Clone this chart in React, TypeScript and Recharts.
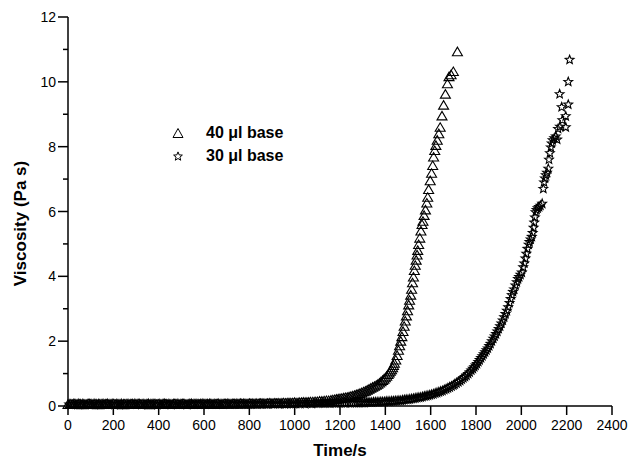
import { ScatterChart, Scatter, XAxis, YAxis, Legend } from 'recharts'

const FONT = '"Liberation Sans", Arial, Helvetica, sans-serif'

const xTicks = [0, 200, 400, 600, 800, 1000, 1200, 1400, 1600, 1800, 2000, 2200, 2400]
const yTicks = [0, 1, 2, 3, 4, 5, 6, 7, 8, 9, 10, 11, 12]

// 40 µl base (triangles)
const triTime = [
  0, 10, 20, 30, 40, 50, 60, 70, 80, 90,
  100, 110, 120, 130, 140, 150, 160, 170, 180, 190,
  200, 210, 220, 230, 240, 250, 260, 270, 280, 290,
  300, 310, 320, 330, 340, 350, 360, 370, 380, 390,
  400, 410, 420, 430, 440, 450, 460, 470, 480, 490,
  500, 510, 520, 530, 540, 550, 560, 570, 580, 590,
  600, 610, 620, 630, 640, 650, 660, 670, 680, 690,
  700, 710, 720, 730, 740, 750, 760, 770, 780, 790,
  800, 810, 820, 830, 840, 850, 860, 870, 880, 890,
  900, 910, 920, 930, 940, 950, 960, 970, 980, 990,
  1000, 1010, 1020, 1030, 1040, 1050, 1060, 1070, 1080, 1090,
  1100, 1110, 1120, 1130, 1140, 1150,
  1160, 1168, 1176, 1184, 1192, 1200, 1208, 1216, 1224, 1232,
  1240, 1248, 1256, 1264, 1272, 1280, 1288, 1296, 1304, 1312,
  1320, 1328, 1336, 1344, 1352, 1360, 1367, 1374, 1381, 1388,
  1394, 1400, 1406, 1412, 1417, 1422, 1427, 1432, 1436, 1440,
  1446, 1452, 1458, 1463, 1468, 1473, 1478, 1483, 1488, 1493,
  1498, 1503, 1507, 1512, 1516, 1520, 1524, 1528, 1532, 1536,
  1540, 1543, 1547, 1552, 1557, 1562, 1566, 1571, 1577, 1583,
  1587, 1591, 1598, 1604, 1609, 1613, 1618, 1623, 1629, 1636,
  1642, 1650, 1657, 1665, 1674, 1681, 1690, 1700, 1718,
]
const triVisc = [
  0.05, 0.06, 0.05, 0.07, 0.05, 0.06, 0.04, 0.06, 0.05, 0.07,
  0.06, 0.05, 0.06, 0.04, 0.06, 0.07, 0.05, 0.06, 0.05, 0.06,
  0.07, 0.05, 0.06, 0.05, 0.04, 0.06, 0.07, 0.05, 0.06, 0.05,
  0.06, 0.07, 0.05, 0.06, 0.05, 0.06, 0.04, 0.06, 0.07, 0.05,
  0.06, 0.05, 0.07, 0.06, 0.05, 0.06, 0.05, 0.07, 0.06, 0.05,
  0.06, 0.07, 0.05, 0.06, 0.06, 0.05, 0.07, 0.06, 0.05, 0.06,
  0.07, 0.06, 0.05, 0.07, 0.06, 0.06, 0.07, 0.05, 0.06, 0.07,
  0.06, 0.07, 0.06, 0.07, 0.06, 0.07, 0.08, 0.06, 0.07, 0.07,
  0.08, 0.07, 0.07, 0.08, 0.07, 0.08, 0.08, 0.07, 0.08, 0.09,
  0.08, 0.09, 0.08, 0.09, 0.09, 0.1, 0.09, 0.1, 0.1, 0.1,
  0.11, 0.1, 0.11, 0.11, 0.12, 0.12, 0.12, 0.13, 0.13, 0.14,
  0.14, 0.15, 0.15, 0.16, 0.17, 0.17,
  0.18, 0.19, 0.2, 0.21, 0.22, 0.23, 0.24, 0.25, 0.26, 0.27,
  0.28, 0.3, 0.31, 0.33, 0.35, 0.37, 0.39, 0.41, 0.44, 0.46,
  0.49, 0.52, 0.55, 0.58, 0.61, 0.64, 0.67, 0.71, 0.75, 0.79,
  0.83, 0.87, 0.92, 0.97, 1.02, 1.07, 1.12, 1.18, 1.25, 1.32,
  1.42, 1.56, 1.72, 1.86, 2.0, 2.14, 2.3, 2.46, 2.62, 2.78,
  2.94, 3.12, 3.26, 3.42, 3.6, 3.8, 3.98, 4.18, 4.34, 4.5,
  4.66, 4.8, 4.98, 5.18, 5.4, 5.6, 5.7, 5.88, 6.05, 6.26,
  6.44, 6.68, 6.95, 7.18, 7.42, 7.68, 7.88, 8.04, 8.2, 8.4,
  8.6, 8.95, 9.28, 9.62, 9.94, 10.16, 10.22, 10.32, 10.93,
]

// 30 µl base (stars)
const starTime = [
  5, 15, 25, 35, 45, 55, 65, 75, 85, 95,
  105, 115, 125, 135, 145, 155, 165, 175, 185, 195,
  205, 215, 225, 235, 245, 255, 265, 275, 285, 295,
  305, 315, 325, 335, 345, 355, 365, 375, 385, 395,
  405, 415, 425, 435, 445, 455, 465, 475, 485, 495,
  505, 515, 525, 535, 545, 555, 565, 575, 585, 595,
  605, 615, 625, 635, 645, 655, 665, 675, 685, 695,
  705, 715, 725, 735, 745, 755, 765, 775, 785, 795,
  805, 815, 825, 835, 845, 855, 865, 875, 885, 895,
  905, 915, 925, 935, 945, 955, 965, 975, 985, 995,
  1005, 1015, 1025, 1035, 1045, 1055, 1065, 1075, 1085, 1095,
  1105, 1115, 1125, 1135, 1145, 1155, 1165, 1175, 1185, 1195,
  1205, 1215, 1225, 1235, 1245, 1255, 1265, 1275, 1285,
  1292, 1300, 1308, 1316, 1324, 1332, 1340, 1348, 1356, 1364,
  1372, 1380, 1388, 1396, 1404, 1412, 1420, 1428, 1436, 1444,
  1452, 1460, 1468, 1476, 1484, 1492, 1500, 1508, 1516, 1524,
  1532, 1540, 1548, 1556, 1564, 1572, 1580, 1588, 1596, 1604,
  1612, 1620, 1628, 1636, 1644, 1652, 1660, 1668, 1676, 1684,
  1692, 1700,
  1706, 1714, 1722, 1730, 1737, 1744, 1751, 1758, 1765,
  1772, 1779, 1786, 1792, 1798, 1804, 1810, 1816, 1822, 1828,
  1834, 1840, 1846, 1852, 1858, 1864, 1870, 1876, 1882, 1888,
  1894, 1900, 1906, 1912, 1918, 1924, 1930, 1936, 1942, 1948,
  1953, 1958, 1963, 1968, 1974, 1980, 1985, 1990, 1996, 2002,
  2008, 2013, 2018, 2022, 2027, 2032, 2036, 2041, 2046, 2050,
  2054, 2057, 2060, 2063, 2067, 2072, 2078, 2084, 2092, 2097,
  2100, 2104, 2108, 2113, 2119, 2122, 2126, 2130, 2134, 2138,
  2145, 2152, 2158, 2162, 2170, 2181, 2196, 2196, 2178, 2207,
  2169, 2207, 2213,
]
const starVisc = [
  0.05, 0.04, 0.06, 0.05, 0.07, 0.05, 0.06, 0.04, 0.05, 0.06,
  0.05, 0.07, 0.05, 0.06, 0.04, 0.06, 0.05, 0.07, 0.05, 0.06,
  0.04, 0.06, 0.05, 0.07, 0.05, 0.04, 0.06, 0.05, 0.06, 0.07,
  0.05, 0.06, 0.04, 0.06, 0.05, 0.07, 0.05, 0.06, 0.05, 0.04,
  0.06, 0.05, 0.07, 0.05, 0.06, 0.04, 0.06, 0.05, 0.07, 0.05,
  0.06, 0.05, 0.04, 0.06, 0.07, 0.05, 0.06, 0.05, 0.06, 0.07,
  0.05, 0.06, 0.07, 0.05, 0.06, 0.05, 0.07, 0.06, 0.05, 0.06,
  0.07, 0.05, 0.06, 0.06, 0.07, 0.05, 0.06, 0.07, 0.06, 0.05,
  0.06, 0.07, 0.06, 0.05, 0.07, 0.06, 0.07, 0.06, 0.06, 0.07,
  0.06, 0.07, 0.07, 0.06, 0.07, 0.06, 0.07, 0.08, 0.07, 0.07,
  0.07, 0.08, 0.07, 0.08, 0.07, 0.08, 0.08, 0.07, 0.08, 0.08,
  0.08, 0.09, 0.08, 0.08, 0.09, 0.08, 0.09, 0.09, 0.09, 0.09,
  0.09, 0.1, 0.09, 0.1, 0.09, 0.1, 0.1, 0.1, 0.1,
  0.1, 0.1, 0.1, 0.11, 0.11, 0.11, 0.11, 0.12, 0.12, 0.12,
  0.12, 0.13, 0.13, 0.13, 0.14, 0.14, 0.14, 0.15, 0.15, 0.16,
  0.16, 0.17, 0.17, 0.18, 0.19, 0.2, 0.2, 0.21, 0.22, 0.23,
  0.24, 0.25, 0.26, 0.27, 0.28, 0.3, 0.31, 0.32, 0.34, 0.35,
  0.37, 0.39, 0.41, 0.43, 0.45, 0.47, 0.5, 0.52, 0.55, 0.58,
  0.61, 0.64,
  0.67, 0.7, 0.74, 0.78, 0.82, 0.86, 0.9, 0.94, 0.99,
  1.04, 1.1, 1.15, 1.2, 1.25, 1.3, 1.36, 1.42, 1.48, 1.54,
  1.6, 1.66, 1.72, 1.78, 1.85, 1.92, 2.0, 2.08, 2.15, 2.22,
  2.3, 2.38, 2.46, 2.55, 2.64, 2.74, 2.84, 2.94, 3.05, 3.18,
  3.3, 3.42, 3.52, 3.6, 3.72, 3.82, 3.92, 3.98, 4.05, 4.12,
  4.28, 4.4, 4.55, 4.7, 4.85, 4.98, 5.06, 5.14, 5.22, 5.34,
  5.5, 5.66, 5.82, 5.98, 6.05, 6.1, 6.14, 6.18, 6.24, 6.7,
  6.9, 7.02, 7.12, 7.2, 7.32, 7.6, 7.8, 7.98, 8.1, 8.2,
  8.26, 8.32, 8.22, 8.55, 8.62, 8.82, 8.94, 8.6, 9.22, 9.3,
  9.62, 10.0, 10.68,
]

const seriesNames = ['40 \u03bcl base', '30 \u03bcl base']

const triData = triTime.map((t, i) => ({ time: t, visc: triVisc[i] }))
const starData = starTime.map((t, i) => ({ time: t, visc: starVisc[i] }))

const starPoints = (cx: number, cy: number, r: number, ir: number) => {
  const pts: string[] = []
  for (let k = 0; k < 10; k++) {
    const rad = k % 2 === 0 ? r : ir
    const a = -Math.PI / 2 + (k * Math.PI) / 5
    pts.push(`${cx + rad * Math.cos(a)},${cy + rad * Math.sin(a)}`)
  }
  return pts.join(' ')
}

const TriangleMark = (props: any) => {
  const { cx, cy } = props
  return (
    <polygon
      points={`${cx - 5},${cy + 4} ${cx + 5},${cy + 4} ${cx},${cy - 4.5}`}
      fill="none"
      stroke="#000"
      strokeWidth={1.1}
    />
  )
}

const StarMark = (props: any) => {
  const { cx, cy } = props
  return <polygon points={starPoints(cx, cy, 4.6, 2)} fill="none" stroke="#000" strokeWidth={1.1} />
}

const YTick = ({ x, y, payload }: any) => {
  const major = payload.value % 2 === 0
  return (
    <g>
      <line x1={x - (major ? 10 : 5)} x2={x} y1={y} y2={y} stroke="#000" strokeWidth={1.5} />
      {major && (
        <text x={x - 12} y={y} dy="0.36em" textAnchor="end" fontSize={14} fontFamily={FONT} fill="#000">
          {payload.value}
        </text>
      )}
    </g>
  )
}

const LegendBox = () => (
  <div style={{ fontFamily: FONT, fontWeight: 'bold', fontSize: 16, lineHeight: '23px', color: '#000' }}>
    {seriesNames.map((name, i) => (
      <div key={name} style={{ display: 'flex', alignItems: 'center' }}>
        <svg width={20} height={14}>
          {i === 0 ? (
            <polygon points="5,11.5 15,11.5 10,2.5" fill="none" stroke="#000" strokeWidth={1} />
          ) : (
            <polygon points={starPoints(10, 7.5, 4.6, 2)} fill="none" stroke="#000" strokeWidth={1} />
          )}
        </svg>
        <span style={{ marginLeft: 18 }}>{name}</span>
      </div>
    ))}
  </div>
)

export default function App() {
  return (
    <div style={{ position: 'absolute', left: 0, top: 0, width: 631, height: 460 }}>
      <ScatterChart width={631} height={460} margin={{ top: 17, right: 19, bottom: 10, left: 18 }}>
        <XAxis
          type="number"
          dataKey="time"
          domain={[0, 2400]}
          ticks={xTicks}
          interval={0}
          tickSize={9}
          tickMargin={5}
          height={44}
          axisLine={{ stroke: '#000', strokeWidth: 1.5 }}
          tickLine={{ stroke: '#000', strokeWidth: 1.5 }}
          tick={{ fill: '#000', fontSize: 14, fontFamily: FONT }}
          label={{
            content: ({ viewBox }: any) => (
              <text
                x={viewBox.x + viewBox.width / 2}
                y={viewBox.y + 44}
                dy="0.36em"
                textAnchor="middle"
                fontSize={17}
                fontWeight="bold"
                fontFamily={FONT}
                fill="#000"
              >
                Time/s
              </text>
            ),
          }}
        />
        <YAxis
          type="number"
          dataKey="visc"
          domain={[0, 12]}
          ticks={yTicks}
          interval={0}
          width={50}
          tickSize={0}
          tickMargin={0}
          tickLine={false}
          axisLine={{ stroke: '#000', strokeWidth: 1.5 }}
          tick={<YTick />}
          label={{
            content: ({ viewBox }: any) => {
              const cx = viewBox.x + 2
              const cy = viewBox.y + viewBox.height / 2 + 12
              return (
                <text
                  x={cx}
                  y={cy}
                  dy="0.36em"
                  transform={`rotate(-90, ${cx}, ${cy})`}
                  textAnchor="middle"
                  fontSize={17}
                  fontWeight="bold"
                  fontFamily={FONT}
                  fill="#000"
                >
                  Viscosity (Pa s)
                </text>
              )
            },
          }}
        />
        <Legend
          layout="vertical"
          align="center"
          verticalAlign="middle"
          wrapperStyle={{ left: 168, top: 121, width: 'auto' }}
          content={<LegendBox />}
        />
        <Scatter name={seriesNames[1]} data={starData} shape={StarMark} isAnimationActive={false} />
        <Scatter name={seriesNames[0]} data={triData} shape={TriangleMark} isAnimationActive={false} />
      </ScatterChart>
    </div>
  )
}
